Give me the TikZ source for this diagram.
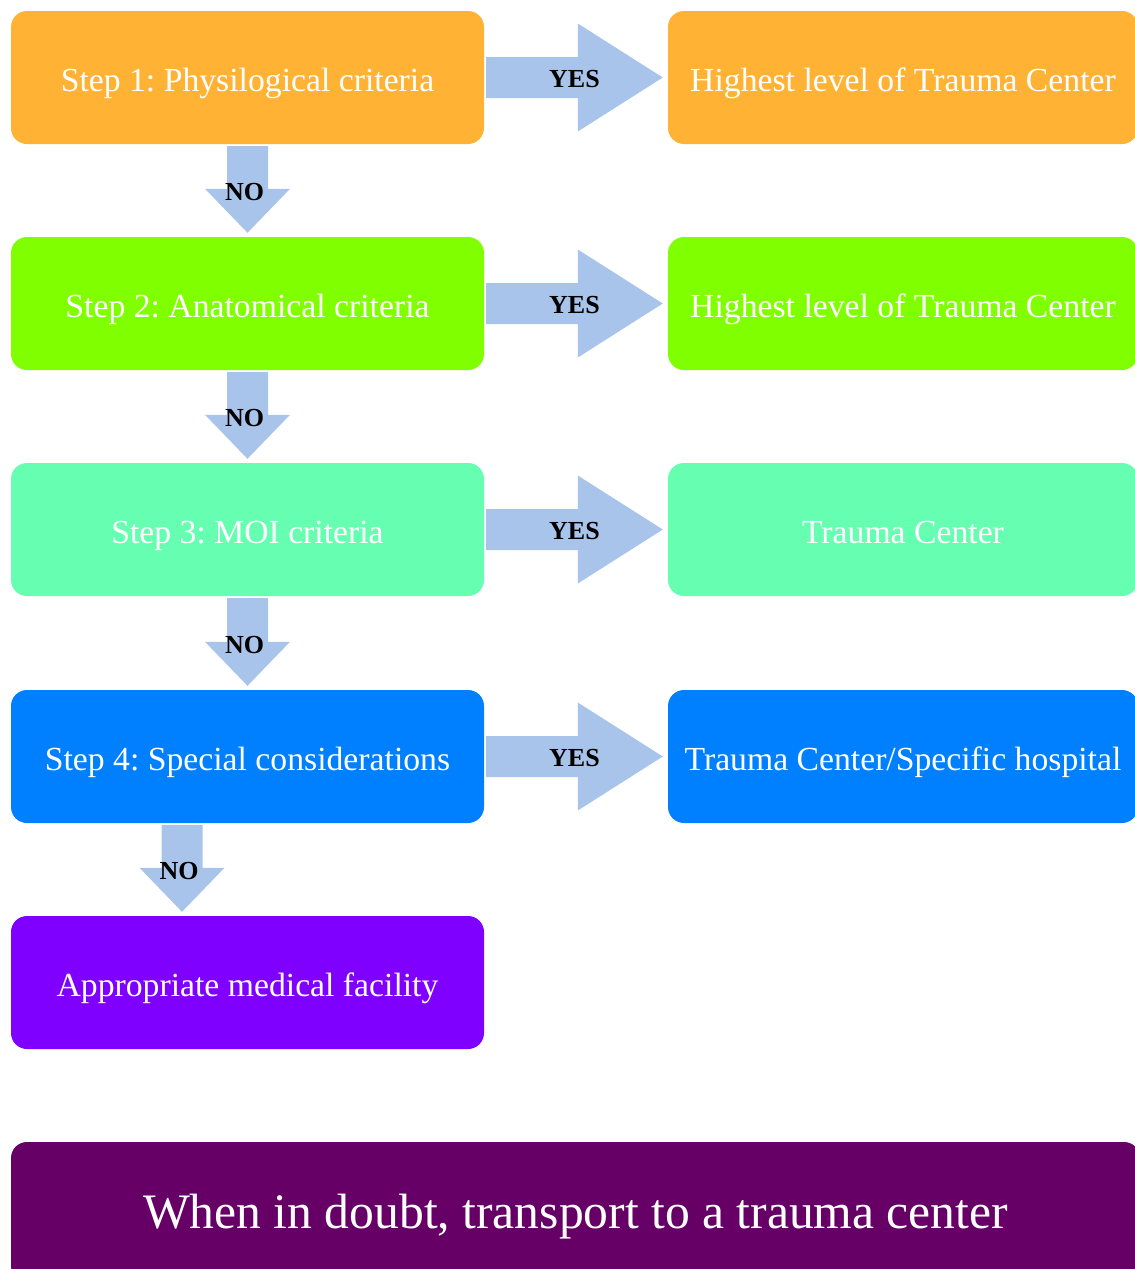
\documentclass[tikz,border=0pt]{standalone}
\usepackage{fontspec}
\setmainfont{Liberation Serif}
\frenchspacing
\usetikzlibrary{calc}
\definecolor{c1}{HTML}{FFB233}
\definecolor{c2}{HTML}{80FF00}
\definecolor{c3}{HTML}{66FFB2}
\definecolor{c4}{HTML}{0080FF}
\definecolor{c5}{HTML}{7F00FF}
\definecolor{c6}{HTML}{660066}
\definecolor{arrc}{HTML}{A9C4EB}
\tikzset{
  box/.style={rounded corners=16pt, minimum width=473pt, minimum height=133pt,
    inner sep=0pt, text=white, text height=27pt, text depth=0pt,
    font=\fontsize{33.7}{40}\selectfont},
  rbox/.style={box, minimum width=470pt},
  note/.style={rounded corners=16pt, minimum width=1129pt, minimum height=140pt,
    inner sep=0pt, text=white, text height=32pt, text depth=0pt,
    font=\fontsize{49.6}{58}\selectfont},
  arrfill/.style={fill=arrc, draw=none},
  lbl/.style={font=\bfseries\fontsize{26}{30}\selectfont, text=black, inner sep=0pt}
}
\newcommand{\yesarrow}[3]{%
  \coordinate (#3s) at ($(#1.east)+(2,0)$);
  \coordinate (#3e) at ($(#2.west)+(-5,0)$);
  \fill[arrfill] ($(#3s)+(0,-20.5)$) -- ($(#3e)+(-85,-20.5)$) -- ($(#3e)+(-85,-54)$)
    -- (#3e) -- ($(#3e)+(-85,54)$) -- ($(#3e)+(-85,20.5)$) -- ($(#3s)+(0,20.5)$) -- cycle;
  \node[lbl] (#3l) at ($($(#3s)!0.5!(#3e)$)+(0,2)$) {YES};
}
\newcommand{\noarrow}[4]{%
  \coordinate (#3s) at ($(#1.south)+(#4,2)$);
  \coordinate (#3e) at ($(#2.north)+(#4,-4)$);
  \fill[arrfill] ($(#3s)+(-20.5,0)$) -- ($(#3e)+(-20.5,-44)$) -- ($(#3e)+(-42.5,-44)$)
    -- (#3e) -- ($(#3e)+(42.5,-44)$) -- ($(#3e)+(20.5,-44)$) -- ($(#3s)+(20.5,0)$) -- cycle;
  \node[lbl] (#3l) at ($($(#3s)!0.5!(#3e)$)+(-3,3)$) {NO};
}
\begin{document}
\begin{tikzpicture}[x=1pt, y=-1pt]
  \useasboundingbox (0,0) rectangle (1135,1269);
  \clip (0,0) rectangle (1135,1269);
  \node[box, fill=c1] (s1) at (247.5,77.5) {Step 1: Physilogical criteria};
  \node[box, fill=c2] (s2) at (247.5,303.5) {Step 2: Anatomical criteria};
  \node[box, fill=c3] (s3) at (247.5,529.5) {Step 3: MOI criteria};
  \node[box, fill=c4] (s4) at (247.5,756.5) {Step 4: Special considerations};
  \node[box, fill=c5] (s5) at (247.5,982.5) {Appropriate medical facility};
  \node[rbox, fill=c1] (r1) at (903,77.5) {Highest level of Trauma Center};
  \node[rbox, fill=c2] (r2) at (903,303.5) {Highest level of Trauma Center};
  \node[rbox, fill=c3] (r3) at (903,529.5) {Trauma Center};
  \node[rbox, fill=c4] (r4) at (903,756.5) {Trauma Center/Specific hospital};
  \node[note, fill=c6] (nt) at (575.5,1212) {When in doubt, transport to a trauma center};
  \yesarrow{s1}{r1}{ya}
  \yesarrow{s2}{r2}{yb}
  \yesarrow{s3}{r3}{yc}
  \yesarrow{s4}{r4}{yd}
  \noarrow{s1}{s2}{na}{0}
  \noarrow{s2}{s3}{nb}{0}
  \noarrow{s3}{s4}{nc}{0}
  \noarrow{s4}{s5}{nd}{-65.5}
\end{tikzpicture}
\end{document}
